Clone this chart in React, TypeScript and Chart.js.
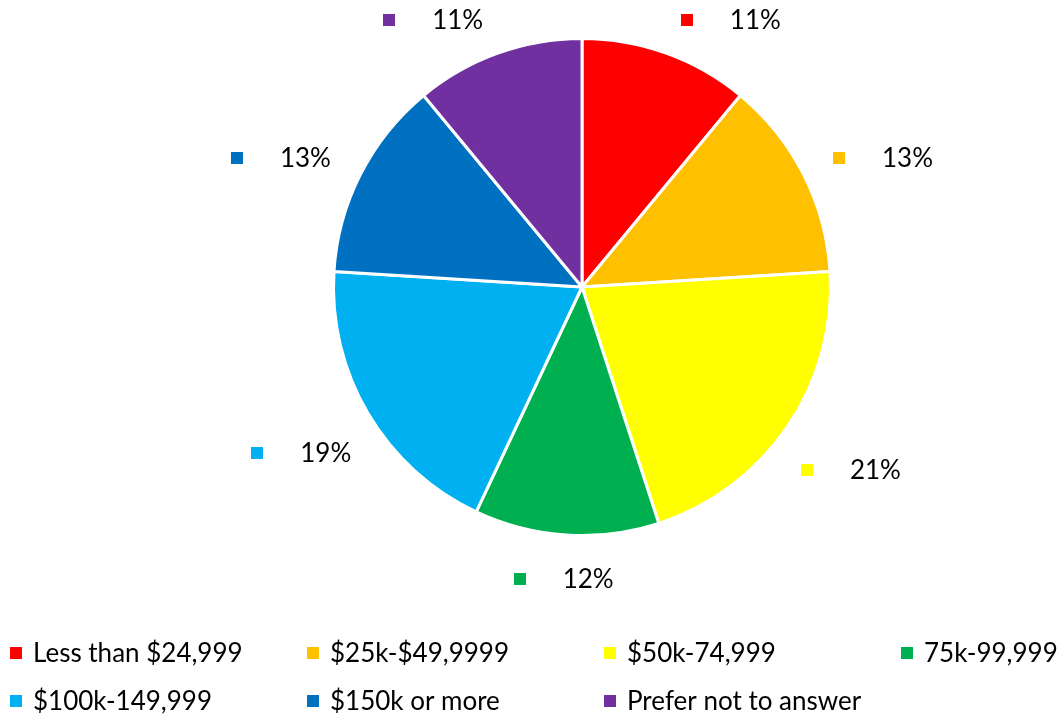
import React, { useEffect, useRef } from "react";
import { Chart, registerables } from "chart.js";

Chart.register(...registerables);

const categories = [
  "Less than $24,999",
  "$25k-$49,9999",
  "$50k-74,999",
  "75k-99,999",
  "$100k-149,999",
  "$150k or more",
  "Prefer not to answer",
];
const values = [11, 13, 21, 12, 19, 13, 11];
const colors = ["#FF0000", "#FFC000", "#FFFF00", "#00B050", "#00B0F0", "#0070C0", "#7030A0"];

const FONT = "Lato, 'Open Sans', sans-serif";

const labelPlugin = {
  id: "outerLabels",
  afterDraw(chart: any) {
    const ctx = chart.ctx;
    const meta = chart.getDatasetMeta(0);
    const ds = chart.data.datasets[0];
    ctx.save();
    ctx.font = `26px ${FONT}`;
    ctx.textBaseline = "middle";
    ctx.textAlign = "left";
    meta.data.forEach((arc: any, i: number) => {
      const p = arc.getProps(["x", "y", "startAngle", "endAngle", "outerRadius"], true);
      let mid = (p.startAngle + p.endAngle) / 2;
      // best-fit style: pull labels that sit close to the horizontal a bit toward it
      const c0 = Math.cos(mid);
      const s0 = Math.sin(mid);
      const fromH = Math.atan2(Math.abs(s0), Math.abs(c0));
      if (fromH < 0.5) {
        const adj = fromH * 0.86;
        mid = Math.atan2(Math.sign(s0) * Math.sin(adj), Math.sign(c0) * Math.cos(adj));
      }
      const ux = Math.cos(mid);
      const uy = Math.sin(mid);
      const w = 100;
      const h = 26;
      const gap = 28;
      const ext = Math.abs(ux) * w / 2 + Math.abs(uy) * h / 2;
      const D = p.outerRadius + gap + ext;
      let lx = p.x + ux * D;
      let ly = p.y + uy * D;
      const minY = 20;
      if (ly < minY) {
        ly = minY;
        const dy = p.y - ly;
        lx = p.x + Math.sign(ux) * Math.sqrt(Math.max(D * D - dy * dy, 0));
      }
      ctx.fillStyle = colors[i];
      ctx.fillRect(Math.round(lx - 50), Math.round(ly - 6), 12, 12);
      ctx.fillStyle = "#000000";
      ctx.fillText(`${ds.data[i]}%`, lx - 1, ly + 1);
    });

    // legend
    ctx.font = `26px ${FONT}`;
    const rows = [653, 701];
    chart.data.labels.forEach((lab: string, i: number) => {
      const col = i % 4;
      const row = Math.floor(i / 4);
      const x = 10 + col * 297;
      const y = rows[row];
      ctx.fillStyle = colors[i];
      ctx.fillRect(x, y - 6, 12, 12);
      ctx.fillStyle = "#000000";
      ctx.fillText(lab, x + 23, y + 1);
    });
    ctx.restore();
  },
};

export default function App() {
  const ref = useRef<HTMLCanvasElement | null>(null);
  useEffect(() => {
    if (!ref.current) return;
    const chart = new Chart(ref.current, {
      type: "pie",
      data: {
        labels: categories,
        datasets: [
          {
            data: values,
            backgroundColor: colors,
            borderColor: "#ffffff",
            borderWidth: 3,
            hoverOffset: 0,
            offset: 0,
          },
        ],
      },
      options: {
        responsive: false,
        animation: false,
        layout: { padding: { top: 37, bottom: 182, left: 332, right: 227 } },
        plugins: {
          legend: { display: false },
          tooltip: { enabled: false },
        },
      },
      plugins: [labelPlugin],
    });
    return () => chart.destroy();
  }, []);
  return (
    <div style={{ position: "fixed", left: 0, top: 0, width: 1059, height: 719, background: "#ffffff" }}>
      <canvas ref={ref} width={1059} height={719} style={{ display: "block" }} />
    </div>
  );
}
